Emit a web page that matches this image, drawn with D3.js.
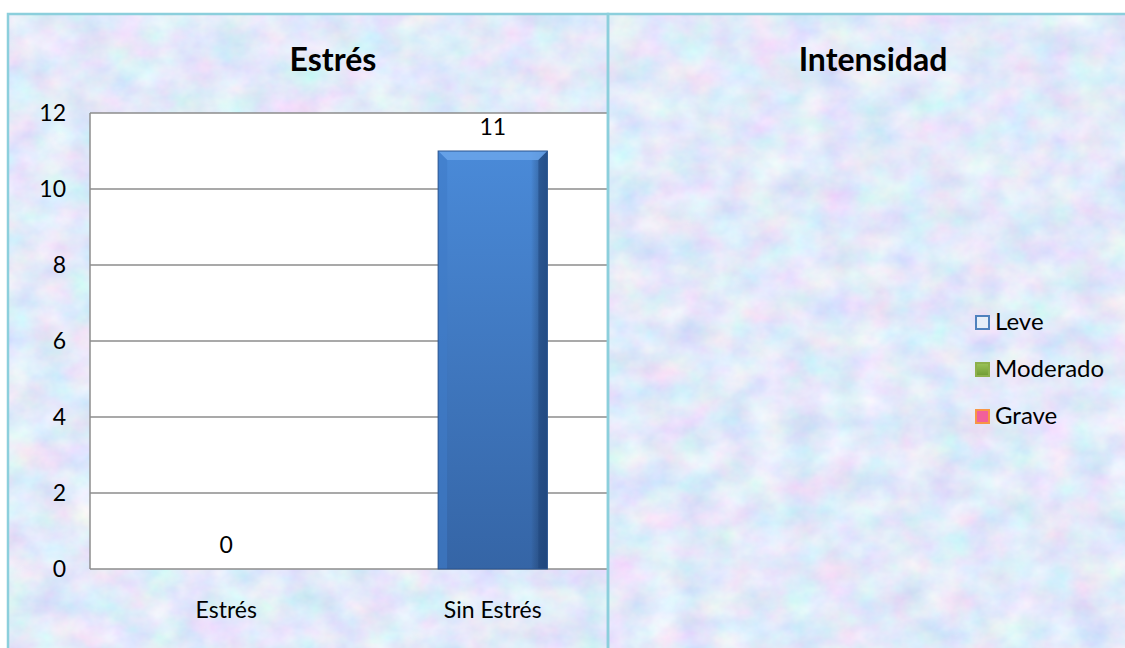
<!DOCTYPE html>
<html>
<head>
<meta charset="utf-8">
<script src="https://cdn.jsdelivr.net/npm/d3@7"></script>
<style>
  html, body { margin: 0; padding: 0; background: #ffffff; }
  svg { display: block; }
  text { font-family: Lato, "Open Sans", "Liberation Sans", sans-serif; fill: #000; }
</style>
</head>
<body>
<svg id="chart" width="1125" height="648"></svg>
<script>
// Stress chart data
const stressCategories = ["Estrés", "Sin Estrés"];
const stressValues = [0, 11];
const stressTicks = [0, 2, 4, 6, 8, 10, 12];

// Intensity chart: series shown only in the legend (no values recorded)
const intensitySeries = ["Leve", "Moderado", "Grave"];
const intensityValues = [];

const titles = ["Estrés", "Intensidad"];

const LABEL_FONT = "23px";
const LEGEND_FONT = "24px";
const TITLE_FONT = "32px";

const svg = d3.select("#chart");
const defs = svg.append("defs");

// Pastel mottled paper texture for the panel backgrounds
const tex = defs.append("filter").attr("id", "paper")
  .attr("x", 0).attr("y", 0).attr("width", "100%").attr("height", "100%");
tex.append("feTurbulence").attr("type", "fractalNoise")
  .attr("baseFrequency", "0.028 0.034").attr("numOctaves", 4).attr("seed", 11)
  .attr("result", "noise");
tex.append("feColorMatrix").attr("in", "noise").attr("type", "matrix")
  .attr("values", [
    0.46, 0, 0, 0, 0.53,
    0, 0.36, 0, 0, 0.64,
    0, 0, 0.18, 0, 0.86,
    0, 0, 0, 0, 1
  ].join(" "));

// Bar gradients
const grad = defs.append("linearGradient").attr("id", "barFill")
  .attr("x1", 0).attr("y1", 0).attr("x2", 0).attr("y2", 1);
grad.append("stop").attr("offset", "0%").attr("stop-color", "#4a8ad8");
grad.append("stop").attr("offset", "100%").attr("stop-color", "#3565a6");
const side = defs.append("linearGradient").attr("id", "barSide")
  .attr("x1", 0).attr("y1", 0).attr("x2", 1).attr("y2", 0);
side.append("stop").attr("offset", "0%").attr("stop-color", "#000").attr("stop-opacity", 0.0);
side.append("stop").attr("offset", "85%").attr("stop-color", "#000").attr("stop-opacity", 0.0);
side.append("stop").attr("offset", "100%").attr("stop-color", "#0d2a55").attr("stop-opacity", 0.45);

const green = defs.append("linearGradient").attr("id", "greenFill")
  .attr("x1", 0).attr("y1", 0).attr("x2", 0).attr("y2", 1);
green.append("stop").attr("offset", "0%").attr("stop-color", "#9cc45a");
green.append("stop").attr("offset", "100%").attr("stop-color", "#6f9a32");

// Panels
const panels = [
  { x: 8, y: 14, w: 600, h: 640 },
  { x: 608, y: 14, w: 520, h: 640 }
];
panels.forEach((p, i) => {
  defs.append("clipPath").attr("id", "clip" + i)
    .append("rect").attr("x", p.x).attr("y", p.y).attr("width", p.w).attr("height", p.h);
});

function drawPanelBg(p) {
  svg.append("rect").attr("x", p.x).attr("y", p.y).attr("width", p.w).attr("height", p.h)
    .attr("fill", "#ccd8f4").attr("filter", "url(#paper)");
}

// ---------- Left chart: Estrés ----------
const left = panels[0];
drawPanelBg(left);
const gL = svg.append("g").attr("clip-path", "url(#clip0)");

const plot = { x0: 90, x1: 630, y0: 113, y1: 569 };
const x = d3.scaleBand().domain(stressCategories).range([93, 626]).paddingInner(0.59).paddingOuter(0.295);
const y = d3.scaleLinear().domain([0, 12]).range([plot.y1, plot.y0]);

gL.append("rect").attr("x", plot.x0).attr("y", y(12)).attr("width", plot.x1 - plot.x0)
  .attr("height", y(0) - y(12)).attr("fill", "#ffffff");

// Gridlines
gL.append("g").selectAll("line").data(stressTicks).join("line")
  .attr("x1", plot.x0).attr("x2", plot.x1)
  .attr("y1", d => y(d)).attr("y2", d => y(d))
  .attr("stroke", "#8c8c8c").attr("stroke-width", 1.5);
// Left edge of plot area
gL.append("line").attr("x1", plot.x0).attr("x2", plot.x0).attr("y1", y(12)).attr("y2", y(0))
  .attr("stroke", "#8c8c8c").attr("stroke-width", 1.5);

// Y axis tick labels
const yAxis = d3.axisLeft(y).tickValues(stressTicks).tickSize(0).tickPadding(24);
const yG = gL.append("g").attr("transform", `translate(${plot.x0},0)`).call(yAxis);
yG.select(".domain").remove();
yG.selectAll("text").style("font-size", LABEL_FONT).style("font-family", "Lato, 'Open Sans', sans-serif").attr("fill", "#000");

// X axis category labels
const xAxis = d3.axisBottom(x).tickSize(0).tickPadding(33);
const xG = gL.append("g").attr("transform", `translate(0,${plot.y1})`).call(xAxis);
xG.select(".domain").remove();
xG.selectAll("text").style("font-size", LABEL_FONT).style("font-family", "Lato, 'Open Sans', sans-serif").attr("fill", "#000");

// Bars with a bevelled look
const barData = stressCategories.map((c, i) => ({ c, v: stressValues[i] }));
const bars = gL.append("g").selectAll("g").data(barData.filter(d => d.v > 0)).join("g");
bars.append("rect")
  .attr("x", d => x(d.c)).attr("y", d => y(d.v))
  .attr("width", x.bandwidth()).attr("height", d => y(0) - y(d.v))
  .attr("fill", "url(#barFill)");
bars.append("rect")
  .attr("x", d => x(d.c)).attr("y", d => y(d.v))
  .attr("width", x.bandwidth()).attr("height", d => y(0) - y(d.v))
  .attr("fill", "url(#barSide)");
// top bevel
bars.append("path")
  .attr("d", d => {
    const bx = x(d.c), by = y(d.v), bw = x.bandwidth(), b = 9;
    return `M${bx},${by} L${bx + bw},${by} L${bx + bw - b},${by + b} L${bx + b},${by + b} Z`;
  })
  .attr("fill", "#6aa4ea").attr("opacity", 0.85);
// left bevel
bars.append("path")
  .attr("d", d => {
    const bx = x(d.c), by = y(d.v), bh = y(0) - y(d.v), b = 9;
    return `M${bx},${by} L${bx + b},${by + b} L${bx + b},${by + bh} L${bx},${by + bh} Z`;
  })
  .attr("fill", "#3f7cc8").attr("opacity", 0.6);
// right bevel
bars.append("path")
  .attr("d", d => {
    const bx = x(d.c), by = y(d.v), bw = x.bandwidth(), bh = y(0) - y(d.v), b = 9;
    return `M${bx + bw},${by} L${bx + bw},${by + bh} L${bx + bw - b},${by + bh} L${bx + bw - b},${by + b} Z`;
  })
  .attr("fill", "#1f467c").attr("opacity", 0.55);
bars.append("rect")
  .attr("x", d => x(d.c)).attr("y", d => y(d.v))
  .attr("width", x.bandwidth()).attr("height", d => y(0) - y(d.v))
  .attr("fill", "none").attr("stroke", "#2a5590").attr("stroke-width", 1);

// Value labels
gL.append("g").selectAll("text").data(barData)
  .join("text")
  .attr("x", d => x(d.c) + x.bandwidth() / 2)
  .attr("y", d => y(d.v) - 16)
  .attr("text-anchor", "middle")
  .style("font-size", LABEL_FONT)
  .text(d => d.v);

// Title
gL.append("text").attr("x", 333).attr("y", 71).attr("text-anchor", "middle")
  .style("font-size", TITLE_FONT).style("font-weight", "bold").text(titles[0]);

// ---------- Right chart: Intensidad ----------
const right = panels[1];
drawPanelBg(right);
const gR = svg.append("g").attr("clip-path", "url(#clip1)");
gR.append("text").attr("x", 873).attr("y", 71).attr("text-anchor", "middle")
  .style("font-size", TITLE_FONT).style("font-weight", "bold").text(titles[1]);

const legendY = d3.scalePoint().domain(intensitySeries).range([322, 416]);
const swatch = {
  "Leve": { fill: "#e6eef8", stroke: "#4f81bd" },
  "Moderado": { fill: "url(#greenFill)", stroke: "#8db04c" },
  "Grave": { fill: "#f2609a", stroke: "#f79646" }
};
const leg = gR.append("g").selectAll("g").data(intensitySeries).join("g")
  .attr("transform", d => `translate(976,${legendY(d)})`);
leg.append("rect").attr("x", 0).attr("y", -6).attr("width", 13).attr("height", 13)
  .attr("fill", d => swatch[d].fill).attr("stroke", d => swatch[d].stroke).attr("stroke-width", 2);
leg.append("text").attr("x", 19).attr("y", 0).attr("dy", "0.35em")
  .style("font-size", LEGEND_FONT).text(d => d);

// Panel borders
panels.forEach(p => {
  svg.append("rect").attr("x", p.x).attr("y", p.y).attr("width", p.w).attr("height", p.h)
    .attr("fill", "none").attr("stroke", "#8ccfdc").attr("stroke-width", 2.5);
});
</script>
</body>
</html>
